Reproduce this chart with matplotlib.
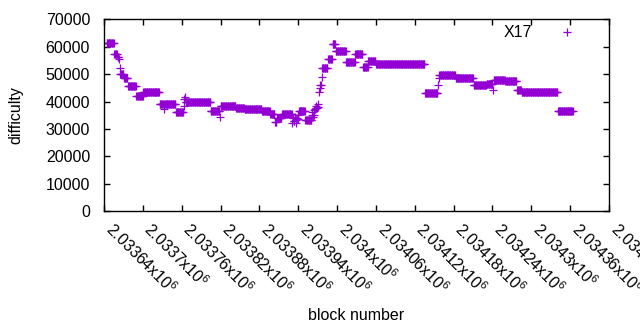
import numpy as np
import matplotlib
matplotlib.use("Agg")
from matplotlib import pyplot as plt

# difficulty is constant over runs of blocks: (first block of run, difficulty)
run_start = [2033644, 2033656, 2033661, 2033663, 2033664, 2033665, 2033671,
             2033677, 2033690, 2033701, 2033726, 2033733, 2033734, 2033751,
             2033763, 2033764, 2033765, 2033766, 2033805, 2033819, 2033820,
             2033844, 2033857, 2033884, 2033897, 2033904, 2033907, 2033915,
             2033931, 2033932, 2033933, 2033934, 2033935, 2033936, 2033937,
             2033938, 2033939, 2033940, 2033941, 2033951, 2033961, 2033962,
             2033963, 2033964, 2033965, 2033966, 2033967, 2033968, 2033970,
             2033971, 2033972, 2033973, 2033974, 2033976, 2033977, 2033986,
             2033993, 2033998, 2034014, 2034028, 2034040, 2034048, 2034060,
             2034136, 2034156, 2034157, 2034158, 2034183, 2034211, 2034231,
             2034241, 2034242, 2034260, 2034278, 2034285, 2034341]
run_diff = [61400, 57300, 56400, 55600, 52300, 50200, 48400,
            45600, 41900, 43400, 39000, 37200, 39000, 36000,
            38400, 41000, 41800, 39900, 36400, 34500, 38400,
            37800, 37400, 36600, 35400, 32500, 33800, 35300,
            32000, 34000, 33000, 32800, 34300, 33200, 32200,
            34000, 33500, 35000, 36600, 33100, 35000, 36300,
            34500, 35000, 36800, 37200, 38400, 37500, 38000,
            39000, 43600, 44800, 46000, 48800, 52100, 55400,
            61000, 58500, 54500, 57200, 52700, 54700, 53600,
            43000, 46000, 48500, 49700, 48500, 46000, 46500,
            44200, 47700, 47400, 44100, 43300, 36600]
last_block = 2034364

xticks = [2033640 + 60 * k for k in range(14)]
yticks = [0, 10000, 20000, 30000, 40000, 50000, 60000, 70000]

# expand runs to one point per block
run_end = run_start[1:] + [last_block + 1]
blocks = []
diffs = []
for s, e, d in zip(run_start, run_end, run_diff):
    for b in range(s, e):
        blocks.append(b)
        diffs.append(d)
blocks = np.array(blocks)
diffs = np.array(diffs)

fs = 11.5
plt.rcParams['font.family'] = ['Liberation Sans', 'DejaVu Sans']
plt.rcParams['mathtext.fontset'] = 'custom'
plt.rcParams['mathtext.rm'] = 'Liberation Sans'
plt.rcParams['font.size'] = fs

fig = plt.figure(figsize=(6.4, 3.3), dpi=100)
ax = fig.add_axes([0.1625, 0.3603, 0.9516 - 0.1625, 0.9415 - 0.3603])
ax.plot(blocks, diffs, linestyle='none', marker='+', ms=5.2, mew=0.9,
        color='#9400d3', label='X17')

ax.set_xlim(xticks[0], xticks[-1])
ax.set_ylim(0, 70000)
ax.set_yticks(yticks)
ax.set_yticklabels([str(v) for v in yticks])
ax.set_xticks(xticks)
ax.set_xticklabels(['%gx10$^{6}$' % (v / 1e6) for v in xticks],
                   rotation=-45, ha='left', va='baseline', rotation_mode='anchor')
ax.tick_params(direction='in', length=4, width=1, top=True, right=True,
               labelsize=fs, colors='black')
ax.tick_params(axis='x', pad=14)
ax.tick_params(axis='y', pad=10)
for sp in ax.spines.values():
    sp.set_linewidth(1)

ax.set_xlabel('block number', fontsize=fs)
ax.set_ylabel('difficulty', fontsize=fs)
ax.xaxis.set_label_coords(0.5, -0.505)
ax.yaxis.set_label_coords(-0.159, 0.5)

ax.legend(loc='upper right', bbox_to_anchor=(0.974, 0.969), frameon=False,
          markerfirst=False, handlelength=3.6, handletextpad=0.4,
          borderaxespad=0, borderpad=0, fontsize=fs)

fig.savefig('out.png', dpi=100)
